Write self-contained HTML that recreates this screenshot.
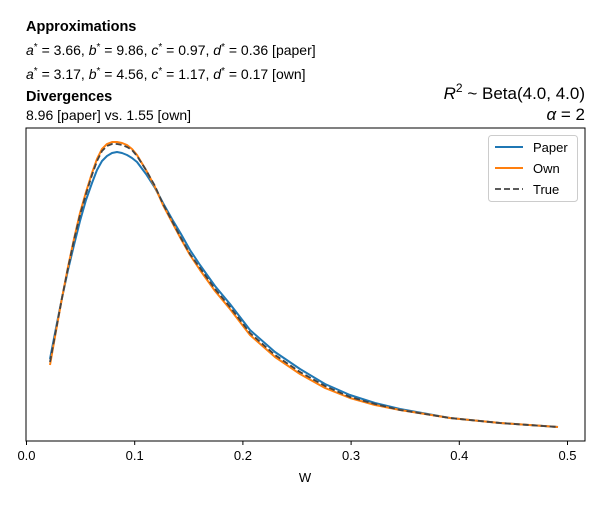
<!DOCTYPE html>
<html><head><meta charset="utf-8"><style>
body{margin:0;background:#fff;}
svg text{font-family:"Liberation Sans","DejaVu Sans",sans-serif;}
</style></head><body>
<svg width="600" height="500" viewBox="0 0 600 500" xmlns="http://www.w3.org/2000/svg">
<rect width="600" height="500" fill="#fff"/>
<text x="26" y="31" font-size="14.5" font-weight="bold">Approximations</text>
<text x="26" y="55" font-size="14"><tspan font-style="italic">a</tspan><tspan dy="-5" font-size="10">*</tspan><tspan dy="5"> = 3.66, </tspan><tspan font-style="italic">b</tspan><tspan dy="-5" font-size="10">*</tspan><tspan dy="5"> = 9.86, </tspan><tspan font-style="italic">c</tspan><tspan dy="-5" font-size="10">*</tspan><tspan dy="5"> = 0.97, </tspan><tspan font-style="italic">d</tspan><tspan dy="-5" font-size="10">*</tspan><tspan dy="5"> = 0.36 [paper]</tspan></text>
<text x="26" y="79" font-size="14"><tspan font-style="italic">a</tspan><tspan dy="-5" font-size="10">*</tspan><tspan dy="5"> = 3.17, </tspan><tspan font-style="italic">b</tspan><tspan dy="-5" font-size="10">*</tspan><tspan dy="5"> = 4.56, </tspan><tspan font-style="italic">c</tspan><tspan dy="-5" font-size="10">*</tspan><tspan dy="5"> = 1.17, </tspan><tspan font-style="italic">d</tspan><tspan dy="-5" font-size="10">*</tspan><tspan dy="5"> = 0.17 [own]</tspan></text>
<text x="26" y="101" font-size="14.5" font-weight="bold">Divergences</text>
<text x="26" y="120" font-size="14">8.96 [paper] vs. 1.55 [own]</text>
<text x="585" y="99" font-size="17" text-anchor="end"><tspan font-style="italic">R</tspan><tspan dy="-7" font-size="12">2</tspan><tspan dy="7"> ~  Beta(4.0, 4.0)</tspan></text>
<text x="585" y="120" font-size="17" text-anchor="end"><tspan font-style="italic">α</tspan> = 2</text>
<rect x="26" y="128" width="559" height="313" fill="none" stroke="#000" stroke-width="1"/>
<g stroke="#000" stroke-width="1">
<line x1="26.5" y1="441" x2="26.5" y2="445"/><line x1="134.7" y1="441" x2="134.7" y2="445"/><line x1="242.9" y1="441" x2="242.9" y2="445"/><line x1="351.1" y1="441" x2="351.1" y2="445"/><line x1="459.3" y1="441" x2="459.3" y2="445"/><line x1="567.5" y1="441" x2="567.5" y2="445"/>
</g>
<g font-size="13" text-anchor="middle">
<text x="26.5" y="460">0.0</text><text x="134.7" y="460">0.1</text><text x="242.9" y="460">0.2</text><text x="351.1" y="460">0.3</text><text x="459.3" y="460">0.4</text><text x="567.5" y="460">0.5</text>
<text x="305" y="482">W</text>
</g>
<g fill="none" stroke-width="2" stroke-linejoin="round">
<polyline stroke="#1f77b4" points="50,359 56,328 62,298 68,270 74,245 80,221 86,200 92,183 97,170 102,161 107,156 112,153 117,152 122,153 127,155 132,158 137,162 146,174 155,188 163,203 172,219 181,234 190,250 200,265 215,286 230,304 250,330 275,352 300,369 325,384 350,395 375,403 400,409 450,418 500,423 558,427"/>
<polyline stroke="#ff7f0e" points="50,365 56,331 62,298 68,267 74,239 80,213 86,192 92,173 97,159 102,149 107,144 112,142 117,142 122,143 127,145 132,149 137,155 146,170 155,187 163,205 172,222 181,239 190,255 200,270 215,291 230,309 250,335 275,357 300,374 325,388 350,398 375,405 400,410 450,418 500,423 558,427"/>
<polyline stroke="#444" stroke-width="1.8" stroke-dasharray="6,3" points="50,362 56,330 62,298 68,268 74,240 80,215 86,194 92,175 97,161 102,151 107,146 112,144 117,144 122,145 127,147 132,150 137,156 146,170 155,186 163,204 172,221 181,238 190,254 200,268 215,289 230,307 250,333 275,355 300,372 325,386 350,397 375,404 400,410 450,418 500,423 558,427"/>
</g>
<rect x="488.5" y="135.5" width="89" height="66" rx="3" fill="#fff" stroke="#ccc"/>
<line x1="495" y1="147" x2="523" y2="147" stroke="#1f77b4" stroke-width="2"/>
<line x1="495" y1="168" x2="523" y2="168" stroke="#ff7f0e" stroke-width="2"/>
<line x1="495" y1="189" x2="523" y2="189" stroke="#444" stroke-width="1.8" stroke-dasharray="6,3"/>
<g font-size="13"><text x="533" y="152">Paper</text><text x="533" y="173">Own</text><text x="533" y="194">True</text></g>
</svg>
</body></html>
